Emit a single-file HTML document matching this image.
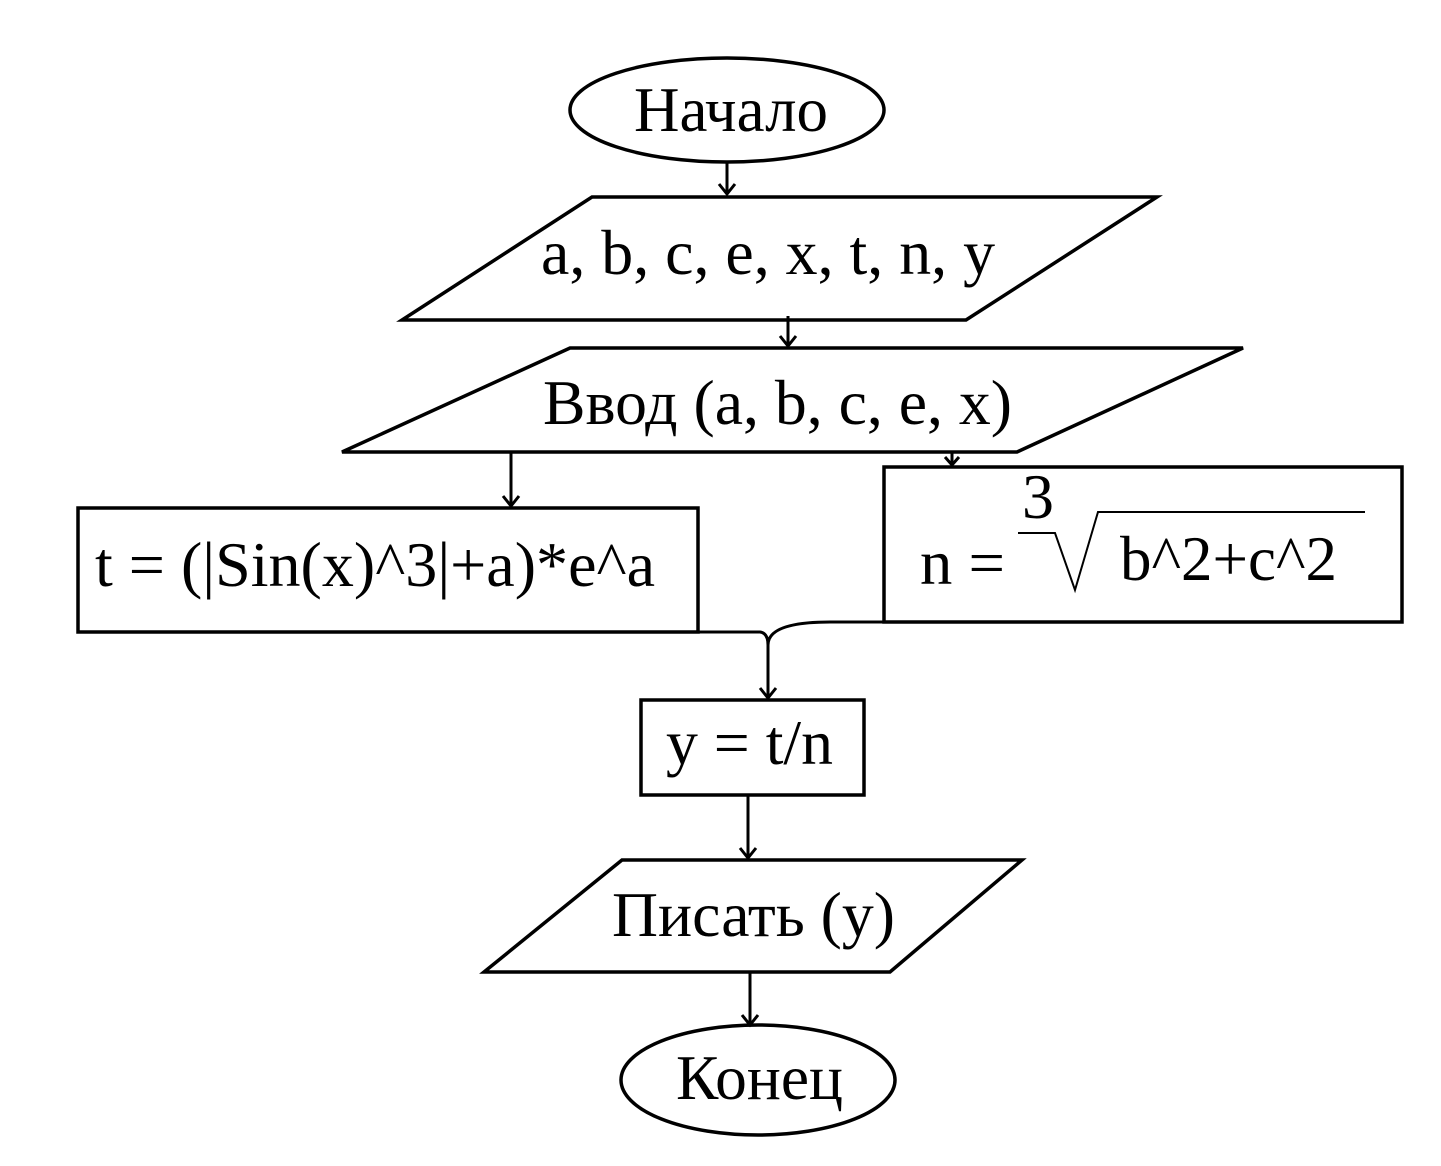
<!DOCTYPE html>
<html><head><meta charset="utf-8"><style>
html,body{margin:0;padding:0;background:#fff;}
svg text{font-family:"Liberation Serif",serif;fill:#000;}
</style></head><body>
<svg width="1441" height="1161" viewBox="0 0 1441 1161" xmlns="http://www.w3.org/2000/svg">
<g fill="none" stroke="#000" stroke-width="3.5">
<ellipse cx="727" cy="110" rx="157" ry="52"/>
<polygon points="592,197 1157,197 966,320 402,320"/>
<polygon points="570,348 1243,348 1017,452 342,452"/>
<rect x="78" y="508" width="620" height="124"/>
<rect x="884" y="467" width="518" height="155"/>
<rect x="641" y="700" width="223" height="95"/>
<polygon points="622,860 1022,860 890,972 484,972"/>
<ellipse cx="758" cy="1080" rx="137" ry="55"/>
</g>
<g fill="none" stroke="#000" stroke-width="3">
<line x1="727" y1="162" x2="727" y2="194"/><polyline points="719,184 727,194 735,184"/>
<line x1="788" y1="316" x2="788" y2="346"/><polyline points="780,336 788,346 796,336"/>
<line x1="511" y1="452" x2="511" y2="506"/><polyline points="503,496 511,506 519,496"/>
<line x1="952" y1="452" x2="952" y2="465"/><polyline points="945,457 952,465 959,457"/>
<path d="M698,632 L760,632 Q768,633 768,645"/>
<path d="M884,622 L830,622 Q768,622 768,645 L768,698"/>
<polyline points="760,688 768,698 776,688"/>
<line x1="748" y1="795" x2="748" y2="858"/><polyline points="740,848 748,858 756,848"/>
<line x1="750" y1="972" x2="750" y2="1025"/><polyline points="742,1015 750,1025 758,1015"/>
</g>
<g fill="none" stroke="#000">
<polyline stroke-width="2" points="1018,533 1055,533 1075,590 1098,512 1365,512"/>
</g>
<g font-size="64">
<text x="634" y="131" textLength="194" lengthAdjust="spacingAndGlyphs">Начало</text>
<text x="541" y="274" textLength="454" lengthAdjust="spacingAndGlyphs">a, b, c, e, x, t, n, y</text>
<text x="543" y="424" textLength="469" lengthAdjust="spacingAndGlyphs">Ввод (a, b, c, e, x)</text>
<text x="95" y="586" textLength="560" lengthAdjust="spacingAndGlyphs">t = (|Sin(x)^3|+a)*e^a</text>
<text x="920" y="584" textLength="85" lengthAdjust="spacingAndGlyphs">n =</text>
<text x="1022" y="518">3</text>
<text x="1120" y="580" textLength="217" lengthAdjust="spacingAndGlyphs">b^2+c^2</text>
<text x="666" y="764" textLength="167" lengthAdjust="spacingAndGlyphs">y = t/n</text>
<text x="612" y="936" textLength="283" lengthAdjust="spacingAndGlyphs">Писать (y)</text>
<text x="676" y="1099" textLength="167" lengthAdjust="spacingAndGlyphs">Конец</text>
</g>
</svg>
</body></html>
